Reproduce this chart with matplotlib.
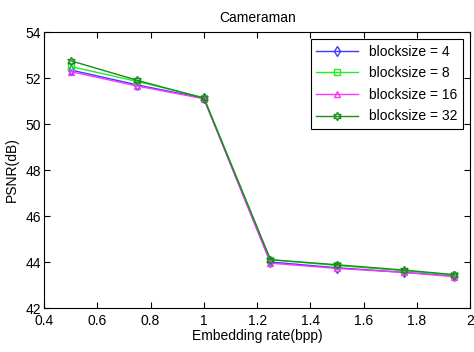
import numpy as np
import matplotlib.pyplot as plt

plt.rcParams['font.family'] = ['Liberation Sans', 'DejaVu Sans']
plt.rcParams['font.size'] = 10

rate = [0.5, 0.75, 1.0, 1.25, 1.5, 1.75, 1.94]
bs4 = [52.35, 51.70, 51.12, 44.00, 43.75, 43.55, 43.40]
bs8 = [52.50, 51.85, 51.15, 44.10, 43.85, 43.62, 43.42]
bs16 = [52.28, 51.65, 51.10, 43.95, 43.72, 43.55, 43.36]
bs32 = [52.75, 51.90, 51.12, 44.10, 43.88, 43.65, 43.45]

fig = plt.figure(figsize=(4.74, 3.52), dpi=100)
ax = fig.add_axes([0.093, 0.125, 0.899, 0.784])

ax.plot(rate, bs4, color='#3c3cff', marker='d', mfc='none', ms=5, lw=1, label='blocksize = 4')
ax.plot(rate, bs8, color='#22ee22', marker='s', mfc='none', ms=5, lw=1, label='blocksize = 8')
ax.plot(rate, bs16, color='#ff33ff', marker='^', mfc='none', ms=5, lw=1, label='blocksize = 16')
ax.plot(rate, bs32, color='#1a8c1a', marker=(6, 1, 0), mfc='none', ms=6, lw=1, label='blocksize = 32')

ax.set_xlim(0.4, 2)
ax.set_ylim(42, 54)
ax.set_xticks(np.arange(0.4, 2.01, 0.2))
ax.set_xticklabels(['0.4', '0.6', '0.8', '1', '1.2', '1.4', '1.6', '1.8', '2'])
ax.set_yticks(range(42, 55, 2))
ax.tick_params(direction='in', top=True, right=True, length=4, pad=2, labelsize=10)
ax.tick_params(axis='x', pad=4)
ax.set_title('Cameraman', fontsize=10, pad=7)
ax.set_xlabel('Embedding rate(bpp)', labelpad=1)
ax.set_ylabel('PSNR(dB)', labelpad=5)

leg = ax.legend(loc='upper right', fancybox=False, edgecolor='black', framealpha=1,
                borderaxespad=0.5, handlelength=3, fontsize=10, labelspacing=0.55)
leg.get_frame().set_linewidth(0.8)

fig.savefig('out.png', dpi=100)
